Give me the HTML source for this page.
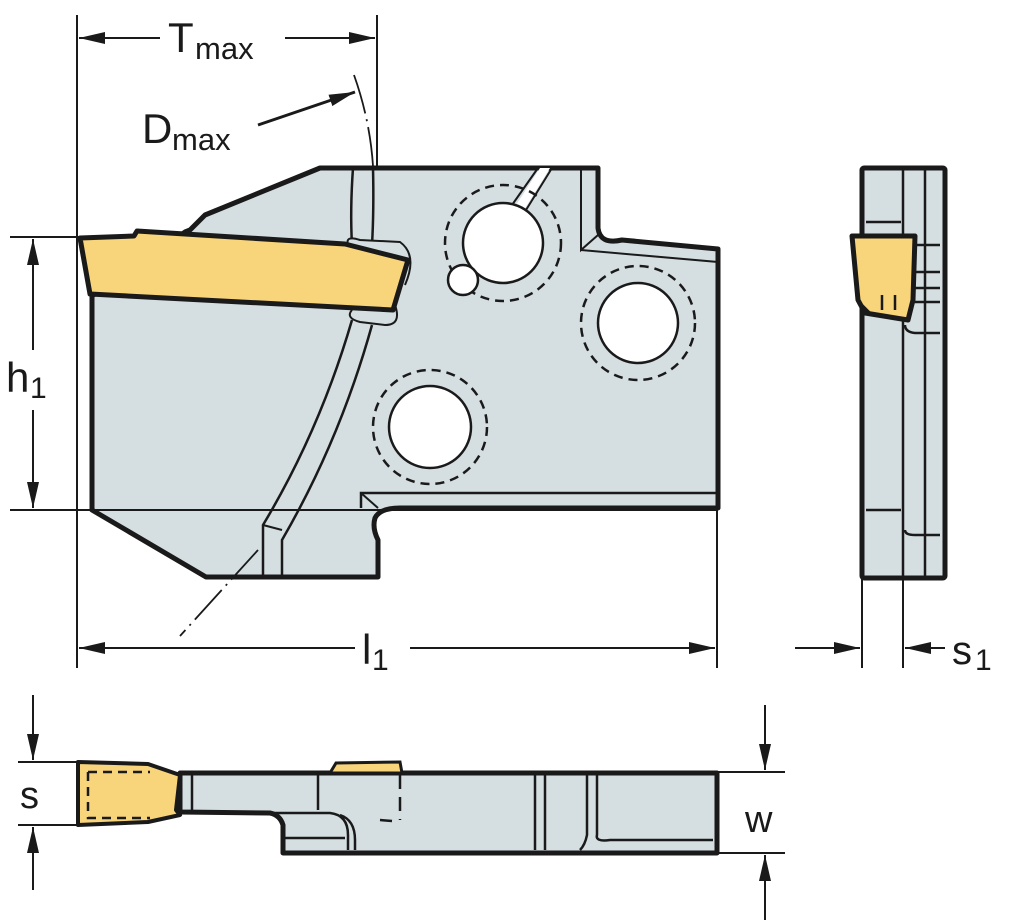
<!DOCTYPE html>
<html><head><meta charset="utf-8"><style>
html,body{margin:0;padding:0;background:#fff}
svg{display:block}
text{font-family:"Liberation Sans",sans-serif;fill:#1a1a1a}
</style></head><body>
<svg width="1024" height="923" viewBox="0 0 1024 923" xmlns="http://www.w3.org/2000/svg">
<defs>
<marker id="a" viewBox="0 0 26 12" refX="26" refY="6" markerWidth="26" markerHeight="12" markerUnits="userSpaceOnUse" orient="auto"><path d="M0,0 L26,6 L0,12 Z" fill="#1a1a1a"/></marker>
</defs>
<g stroke="#1a1a1a" fill="none">
<!-- main body -->
<path d="M92,296 L92,510 L206,577 L378,577 L378,540 Q372,528 375,518 Q380,508 400,508 L718,508 L718,249 L622,240 Q600,245 598,228 L598,168 L320,168 L205,215 L190,230 L185,232 Z" fill="#d5dee1" stroke-width="5" stroke-linejoin="round"/>
<path d="M361,508 L361,493 L718,493" stroke-width="2.5"/>
<path d="M361,493 L378,508" stroke-width="2"/>
<path d="M581,168 L581,250 L598,235" stroke-width="2"/>
<path d="M581,250 L718,262" stroke-width="2"/>
<!-- slot -->
<path d="M538,168 L512,205 M552,168 L526,210" stroke="#1a1a1a" stroke-width="2"/>
<path d="M540,168 L516,205 L524,210 L550,168 Z" fill="#fff" stroke="none"/>
<!-- holes -->
<circle cx="503" cy="243" r="58" stroke-width="2.5" stroke-dasharray="9,6"/>
<circle cx="503" cy="243" r="40" fill="#fff" stroke-width="2.5"/>
<circle cx="463" cy="280" r="15" fill="#fff" stroke-width="2.5"/>
<circle cx="638" cy="323" r="57" stroke-width="2.5" stroke-dasharray="9,6"/>
<circle cx="638" cy="323" r="40" fill="#fff" stroke-width="2.5"/>
<circle cx="430" cy="427" r="57" stroke-width="2.5" stroke-dasharray="9,6"/>
<circle cx="430" cy="427" r="41" fill="#fff" stroke-width="2.5"/>
<!-- curved slot -->
<path d="M353,168 Q350,210 352,245" stroke-width="2.5"/>
<path d="M373,168 Q374,210 372,245" stroke-width="2.5"/>
<path d="M352,320 Q320,430 263,525 L263,577" stroke-width="2.5"/>
<path d="M372,325 Q340,440 282,540 L282,577" stroke-width="2.5"/>
<path d="M263,525 L282,530" stroke-width="2"/>
<path d="M348,245 Q345,235 360,240 L400,242 Q418,255 405,285" stroke-width="2" fill="#d5dee1"/>
<path d="M395,305 Q402,325 385,325 L360,322 Q345,318 352,310" stroke-width="2" fill="#d5dee1"/>
<!-- insert -->
<path d="M80,238 L134,236 L137,231 L345,244 L408,260 L393,310 L90,294 Z" fill="#f8d47a" stroke-width="5" stroke-linejoin="round"/>
<!-- Dmax dash-dot -->
<path d="M354,75 Q370,120 373,166" stroke-width="1.8" stroke-dasharray="40,6,2,6"/>
<path d="M258,550 L180,636" stroke-width="1.8" stroke-dasharray="40,6,2,6"/>
<path d="M258,125 L355,92" stroke-width="3" marker-end="url(#a)"/>
<!-- dimension lines -->
<g stroke-width="2">
<path d="M77,15 L77,668 M377,15 L377,170"/>
<path d="M10,237 L80,237 M10,510 L718,510"/>
<path d="M717,510 L717,668"/>
<path d="M160,38 L79,38" marker-end="url(#a)"/>
<path d="M285,38 L375,38" marker-end="url(#a)"/>
<path d="M33,350 L33,239" marker-end="url(#a)"/>
<path d="M33,410 L33,508" marker-end="url(#a)"/>
<path d="M355,648 L79,648" marker-end="url(#a)"/>
<path d="M410,648 L715,648" marker-end="url(#a)"/>
</g>
<!-- side view -->
<rect x="862" y="168" width="83" height="410" fill="#d5dee1" stroke-width="5" rx="2"/>
<g stroke-width="2.5">
<path d="M903,168 L903,578 M925,170 L925,578"/>
<path d="M866,222 L901,222 M866,510 L901,510"/>
<path d="M905,245 L940,245 M905,272 L940,272 M905,288 L940,288 M905,302 L940,302"/>
<path d="M905,325 Q905,332 915,333 L940,333 M905,530 Q905,535 915,535 L940,535"/>
</g>
<path d="M852,236 L915,236 L913,300 L908,320 L865,313 L858,300 Z" fill="#f8d47a" stroke-width="5" stroke-linejoin="round"/>
<path d="M862,305 L872,315 M882,295 L882,310 M895,295 L895,310" stroke-width="2.5"/>
<g stroke-width="2">
<path d="M862,578 L862,668 M903,578 L903,668"/>
<path d="M795,648 L860,648" marker-end="url(#a)"/>
<path d="M945,648 L905,648" marker-end="url(#a)"/>
</g>
<!-- bottom view -->
<path d="M180,773 L717,773 L717,853 L283,853 L283,825 Q280,815 270,813 L180,812 Z" fill="#d5dee1" stroke-width="5" stroke-linejoin="round"/>
<path d="M330,773 L336,763 L400,762 L402,773 Z" fill="#f8d47a" stroke-width="3"/>
<g stroke-width="2.5">
<path d="M192,775 L192,810 M318,775 L318,810"/>
<path d="M270,813 L330,813 Q348,815 348,835 L348,850 M340,815 Q355,820 355,840 L355,850"/>
<path d="M285,838 L345,838"/>
<path d="M400,775 L400,820" stroke-dasharray="14,8"/>
<path d="M380,820 L392,821" />
<path d="M535,775 L535,850 M545,775 L545,850 M587,775 L587,835 Q585,845 580,850 M597,775 L597,835 Q595,842 610,840 L713,840"/>
</g>
<path d="M78,762 L148,764 L180,775 L176,810 L180,815 L148,822 L78,825 Z" fill="#f8d47a" stroke-width="4" stroke-linejoin="round"/>
<path d="M88,772 L88,818 L150,818 M88,772 L150,772" stroke-width="2.5" stroke-dasharray="9,6"/>
<g stroke-width="2">
<path d="M18,762 L78,762 M18,825 L78,825"/>
<path d="M33,695 L33,760" marker-end="url(#a)"/>
<path d="M33,890 L33,827" marker-end="url(#a)"/>
<path d="M717,772 L785,772 M717,853 L785,853"/>
<path d="M765,705 L765,770" marker-end="url(#a)"/>
<path d="M765,920 L765,855" marker-end="url(#a)"/>
</g>
</g>
<!-- labels -->
<text x="168" y="52" font-size="42">T</text><text x="195" y="59" font-size="31">max</text>
<text x="142" y="143" font-size="42">D</text><text x="172" y="150" font-size="31">max</text>
<text x="6" y="392" font-size="42">h</text><text x="30" y="398" font-size="30">1</text>
<text x="362" y="664" font-size="42">l</text><text x="372" y="670" font-size="30">1</text>
<text x="952" y="664" font-size="40">s</text><text x="975" y="670" font-size="30">1</text>
<text x="20" y="808" font-size="38">s</text>
<text x="745" y="832" font-size="38">w</text>
</svg>
</body></html>
